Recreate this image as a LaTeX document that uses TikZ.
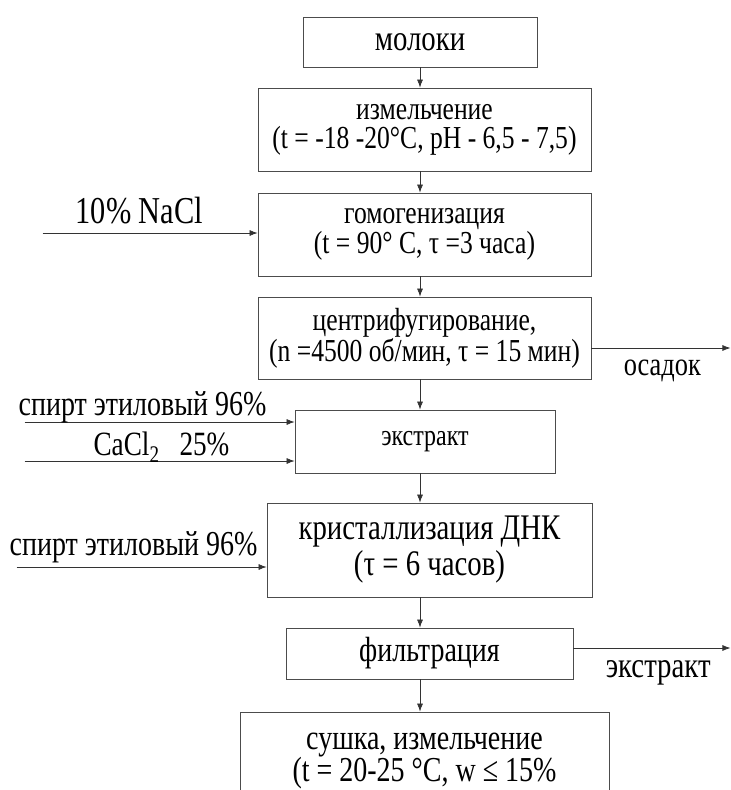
\documentclass[tikz,border=0pt]{standalone}
\usepackage{fontspec}
\setmainfont{Liberation Serif}[FakeStretch=0.8]
\usetikzlibrary{arrows.meta,positioning,calc}

\begin{document}
\begin{tikzpicture}[x=1pt, y=1pt,
  every node/.style={font=\fontsize{32}{29}\selectfont},
  box/.style={rectangle, draw=black!70, line width=0.8pt, align=center, inner sep=0pt},
  flow/.style={-{Latex[length=8pt,width=6pt]}, draw=black!80, line width=0.7pt},
  lbl/.style={anchor=base, inner sep=0pt}]
\useasboundingbox (0,0) rectangle (731,-790);
\node[box, minimum width=234pt, minimum height=50pt, font=\fontsize{36}{36}\selectfont] (milk) at (420,-42) {молоки};
\node[box, minimum width=333pt, minimum height=83pt, node distance=87.5pt, below of=milk, xshift=4.5pt] (grind) {измельчение\\(t = -18 -20°C, pH - 6,5 - 7,5)};
\node[box, minimum width=333pt, minimum height=83pt, node distance=105pt, below of=grind, font=\fontsize{32}{30}\selectfont] (homo) {гомогенизация\\(t = 90° C, τ =3 часа)};
\node[box, minimum width=333pt, minimum height=82pt, node distance=103.5pt, below of=homo, font=\fontsize{32}{28}\selectfont] (centr) {центрифугирование,\\(n =4500 об/мин, τ = 15 мин)};
\node[box, minimum width=260pt, minimum height=63pt, node distance=103.5pt, below of=centr, xshift=0.5pt, font=\fontsize{30}{30}\selectfont] (extr) {экстракт};
\node[box, minimum width=325pt, minimum height=94pt, node distance=108.5pt, below of=extr, xshift=4.5pt, font=\fontsize{36}{36}\selectfont] (cryst) {кристаллизация ДНК\\(τ = 6 часов)};
\node[box, minimum width=287pt, minimum height=51pt, node distance=103.5pt, below of=cryst, font=\fontsize{35}{35}\selectfont] (filt) {фильтрация};
\node[box, minimum width=369pt, minimum height=98pt, node distance=107.5pt, below of=filt, xshift=-5pt, font=\fontsize{35}{31}\selectfont] (dry) {сушка, измельчение\\(t = 20-25 °C, w ≤ 15\%};
% free ends of the side streams
\coordinate (nacl) at ($(homo.west)+(-215,1.5)$);
\coordinate (eth1) at ($(extr.west)+(-270,19.5)$);
\coordinate (cacl) at ($(extr.west)+(-270,-19.5)$);
\coordinate (eth2) at ($(cryst.west)+(-250,-17)$);
\coordinate (sed) at ($(centr.east)+(139,-10)$);
\coordinate (waste) at ($(filt.east)+(157,5.5)$);
% main line
\draw[flow] (milk.south) -- (grind.north -| milk.south);
\draw[flow] (grind.south -| milk.south) -- (homo.north -| milk.south);
\draw[flow] (homo.south -| milk.south) -- (centr.north -| milk.south);
\draw[flow] (centr.south -| milk.south) -- (extr.north -| milk.south);
\draw[flow] (extr.south -| milk.south) -- (cryst.north -| milk.south);
\draw[flow] (cryst.south -| milk.south) -- (filt.north -| milk.south);
\draw[flow] (filt.south -| milk.south) -- (dry.north -| milk.south);
% inputs and outputs
\draw[flow] (nacl) -- (nacl -| homo.west) node[lbl, pos=0.45, yshift=10pt, font=\fontsize{38}{40}\selectfont] {10\% NaCl};
\draw[flow] (eth1) -- (eth1 -| extr.west) node[lbl, pos=0.437, yshift=7pt, font=\fontsize{35}{36}\selectfont] {спирт этиловый 96\%};
\draw[flow] (cacl) -- (cacl -| extr.west) node[lbl, pos=0.507, yshift=6pt, font=\fontsize{34}{36}\selectfont] {CaCl\textsubscript{2}\hspace{20pt}25\%};
\draw[flow] (eth2) -- (eth2 -| cryst.west) node[lbl, pos=0.468, yshift=12pt, font=\fontsize{35}{36}\selectfont] {спирт этиловый 96\%};
\draw[flow] (centr.east |- sed) -- (sed) node[lbl, pos=0.51, yshift=-27pt, font=\fontsize{33}{36}\selectfont] {осадок};
\draw[flow] (filt.east |- waste) -- (waste) node[lbl, pos=0.54, yshift=-29pt, font=\fontsize{36}{36}\selectfont] {экстракт};
\end{tikzpicture}
\end{document}
